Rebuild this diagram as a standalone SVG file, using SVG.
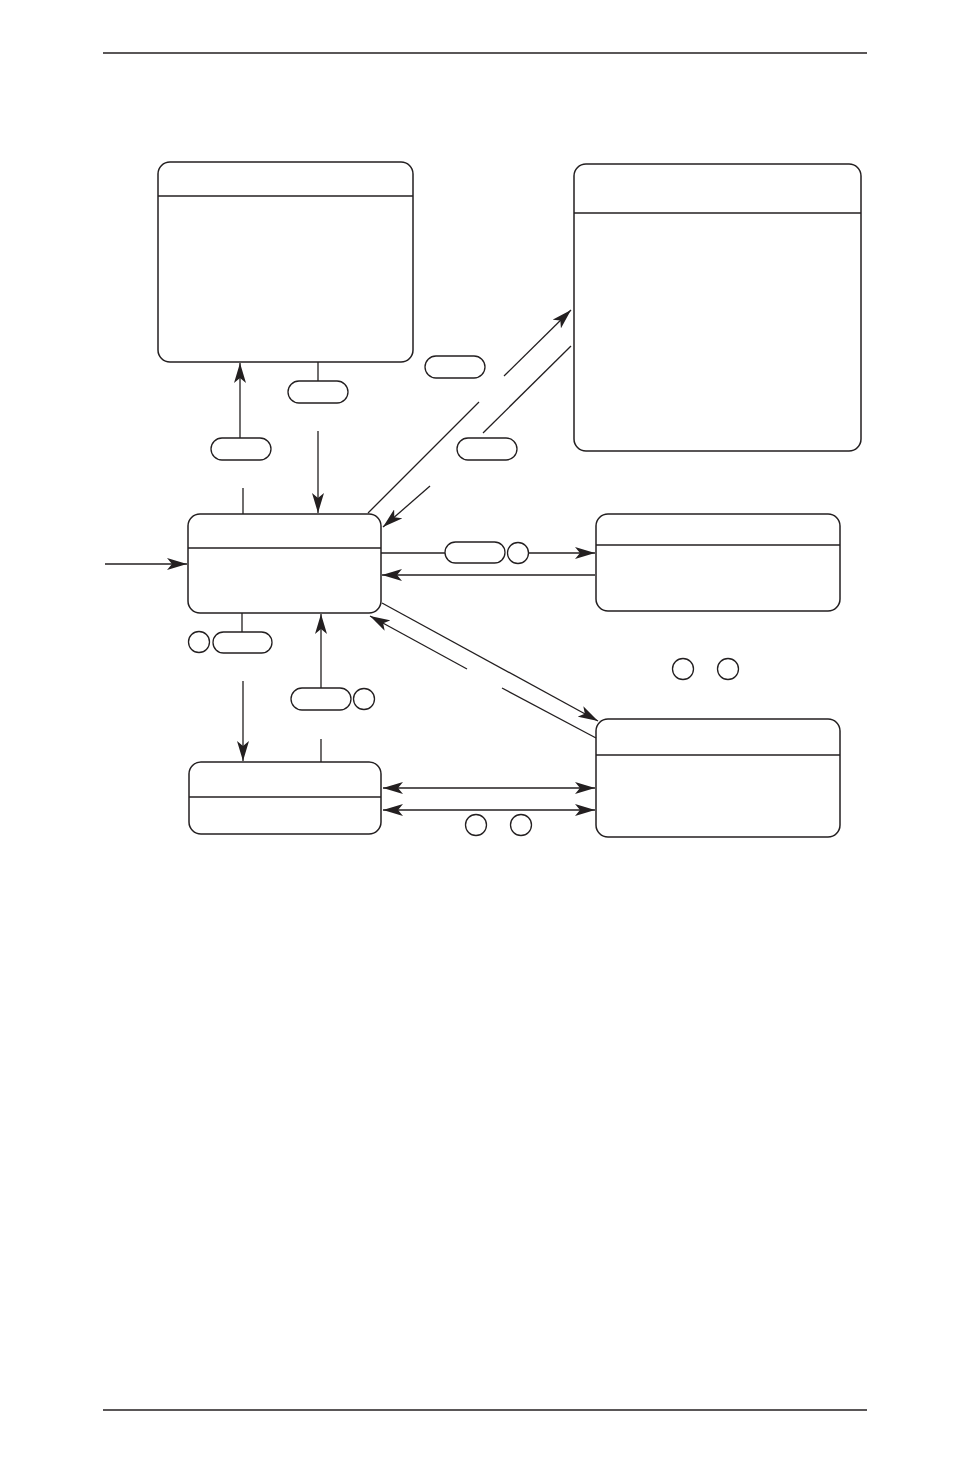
<svg xmlns="http://www.w3.org/2000/svg" width="954" height="1474" viewBox="0 0 954 1474">
<style>
.b{fill:#fff;stroke:#231f20;stroke-width:1.5}
.l{fill:none;stroke:#231f20;stroke-width:1.3}
.p{fill:#fff;stroke:#231f20;stroke-width:1.3}
</style>
<defs><marker id="a" viewBox="0 0 20 12" refX="20" refY="6" markerWidth="20" markerHeight="12" markerUnits="userSpaceOnUse" orient="auto-start-reverse"><path d="M0,0 L20,6 L0,12 L5,6 Z" fill="#231f20"/></marker></defs>
<rect width="954" height="1474" fill="#fff"/>
<line x1="103" y1="53" x2="867" y2="53" class="l"/>
<line x1="103" y1="1410" x2="867" y2="1410" class="l"/>
<g id="nA"><rect x="158" y="162" width="255" height="200" rx="12" class="b"/><line x1="158" y1="196" x2="413" y2="196" class="l"/></g>
<g id="nB"><rect x="574" y="164" width="287" height="287" rx="12" class="b"/><line x1="574" y1="213" x2="861" y2="213" class="l"/></g>
<g id="nC"><rect x="188" y="514" width="193" height="99" rx="12" class="b"/><line x1="188" y1="548" x2="381" y2="548" class="l"/></g>
<g id="nD"><rect x="596" y="514" width="244" height="97" rx="12" class="b"/><line x1="596" y1="545" x2="840" y2="545" class="l"/></g>
<g id="nE"><rect x="596" y="719" width="244" height="118" rx="12" class="b"/><line x1="596" y1="755" x2="840" y2="755" class="l"/></g>
<g id="nF"><rect x="189" y="762" width="192" height="72" rx="12" class="b"/><line x1="189" y1="797" x2="381" y2="797" class="l"/></g>
<g id="connectors">
<line x1="240" y1="438" x2="240" y2="363" class="l" marker-end="url(#a)"/>
<line x1="243" y1="488" x2="243" y2="514" class="l"/>
<line x1="318" y1="362" x2="318" y2="381" class="l"/>
<line x1="318" y1="431" x2="318" y2="513" class="l" marker-end="url(#a)"/>
<line x1="368" y1="513" x2="479" y2="402" class="l"/>
<line x1="504" y1="376" x2="571" y2="310" class="l" marker-end="url(#a)"/>
<line x1="571" y1="346" x2="483" y2="433" class="l"/>
<line x1="430" y1="486" x2="383" y2="527" class="l" marker-end="url(#a)"/>
<line x1="381" y1="553" x2="445" y2="553" class="l"/>
<line x1="528" y1="553" x2="595" y2="553" class="l" marker-end="url(#a)"/>
<line x1="595" y1="575" x2="382" y2="575" class="l" marker-end="url(#a)"/>
<line x1="382" y1="603" x2="598" y2="721" class="l" marker-end="url(#a)"/>
<line x1="596" y1="738" x2="502" y2="688" class="l"/>
<line x1="467" y1="669" x2="370" y2="616" class="l" marker-end="url(#a)"/>
<line x1="242" y1="613" x2="242" y2="632" class="l"/>
<line x1="243" y1="681" x2="243" y2="761" class="l" marker-end="url(#a)"/>
<line x1="321" y1="688" x2="321" y2="614" class="l" marker-end="url(#a)"/>
<line x1="321" y1="739" x2="321" y2="762" class="l"/>
<line x1="383" y1="788" x2="595" y2="788" class="l" marker-start="url(#a)" marker-end="url(#a)"/>
<line x1="383" y1="810" x2="595" y2="810" class="l" marker-start="url(#a)" marker-end="url(#a)"/>
<line x1="105" y1="564" x2="187" y2="564" class="l" marker-end="url(#a)"/>
</g>
<g id="labels">
<rect x="211" y="438" width="60" height="22" rx="11" class="p"/>
<rect x="288" y="381" width="60" height="22" rx="11" class="p"/>
<rect x="425" y="356" width="60" height="22" rx="11" class="p"/>
<rect x="457" y="438" width="60" height="22" rx="11" class="p"/>
<rect x="445" y="542" width="60" height="21" rx="10.5" class="p"/>
<circle cx="518" cy="553" r="10.5" class="p"/>
<rect x="213" y="632" width="59" height="21" rx="10.5" class="p"/>
<circle cx="199" cy="642" r="10.5" class="p"/>
<rect x="291" y="688" width="60" height="22" rx="11" class="p"/>
<circle cx="364" cy="699" r="10.5" class="p"/>
<circle cx="683" cy="669" r="10.5" class="p"/>
<circle cx="728" cy="669" r="10.5" class="p"/>
<circle cx="476" cy="825" r="10.5" class="p"/>
<circle cx="521" cy="825" r="10.5" class="p"/>
</g>
</svg>
